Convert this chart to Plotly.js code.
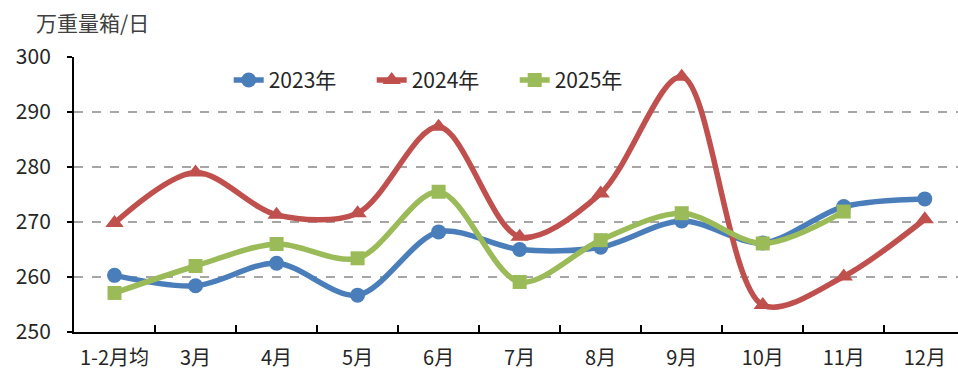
<!DOCTYPE html>
<html>
<head>
<meta charset="utf-8">
<script src="https://cdn.plot.ly/plotly-3.0.1.min.js"></script>
<style>html,body{margin:0;padding:0;background:#fff;}#chart{width:958px;height:376px;}</style>
</head>
<body>
<div id="chart"></div>
<script>
const categories = ["1-2月均","3月","4月","5月","6月","7月","8月","9月","10月","11月","12月"];
const values2023 = [260.3, 258.4, 262.5, 256.7, 268.2, 265.0, 265.4, 270.2, 266.2, 272.8, 274.2];
const values2024 = [269.8, 279.0, 271.3, 271.6, 287.3, 267.3, 275.2, 296.4, 254.9, 260.1, 270.5];
const values2025 = [257.1, 262.0, 266.0, 263.4, 275.5, 259.1, 266.7, 271.6, 266.1, 271.9];
const seriesNames = ["2023年","2024年","2025年"];
const yTicks = [250, 260, 270, 280, 290, 300];
const unitLabel = "万重量箱/日";

const FONT = "'Noto Sans CJK SC', 'Noto Sans', sans-serif";
const colors = ["#4A7EBB", "#C0504D", "#9BBB59"];
const symbols = ["circle", "triangle-up", "square"];
const sizes = [15, 16, 14];
const allValues = [values2023, values2024, values2025];

const traces = allValues.map((vals, i) => ({
  type: "scatter",
  mode: "lines+markers",
  name: seriesNames[i],
  x: categories.slice(0, vals.length),
  y: vals,
  line: {color: colors[i], width: 5.5, shape: "spline", smoothing: 0.9},
  marker: {color: colors[i], symbol: symbols[i], size: sizes[i]},
  cliponaxis: false
}));

const layout = {
  width: 958, height: 376,
  margin: {l: 74, r: 0, t: 57, b: 44},
  paper_bgcolor: "#fff", plot_bgcolor: "#fff",
  font: {family: FONT, size: 21, color: "#262626"},
  showlegend: true,
  legend: {
    orientation: "h", x: 0.175, y: 0.915, xanchor: "left", yanchor: "middle",
    font: {family: FONT, size: 21, color: "#262626"},
    bgcolor: "rgba(255,255,255,0)", entrywidth: 98, entrywidthmode: "pixels",
    tracegroupgap: 0
  },
  xaxis: {
    type: "category",
    categoryorder: "array", categoryarray: categories,
    range: [-0.5, 10.41],
    tickson: "boundaries",
    tickangle: 0,
    ticks: "inside", ticklen: 7, tickwidth: 2, tickcolor: "#000",
    showline: true, linecolor: "#000", linewidth: 2,
    showgrid: false, zeroline: false,
    tickfont: {family: FONT, size: 20, color: "#262626"},
    ticklabelstandoff: 7
  },
  yaxis: {
    range: [250, 300],
    tickvals: yTicks, ticktext: yTicks.map(String),
    ticks: "outside", ticklen: 5, tickwidth: 2, tickcolor: "#000",
    showline: true, linecolor: "#000", linewidth: 2,
    showgrid: true, gridcolor: "#A6A6A6", gridwidth: 2, griddash: "dash",
    zeroline: false,
    tickfont: {family: FONT, size: 21, color: "#262626"},
    ticklabelstandoff: 12
  },
  annotations: [{
    text: unitLabel, xref: "paper", yref: "paper",
    x: -0.045, y: 1.127, xanchor: "left", yanchor: "middle",
    showarrow: false, font: {family: FONT, size: 21, color: "#404040"}
  }]
};

Plotly.newPlot("chart", traces, layout, {displayModeBar: false, staticPlot: true});
</script>
</body>
</html>
